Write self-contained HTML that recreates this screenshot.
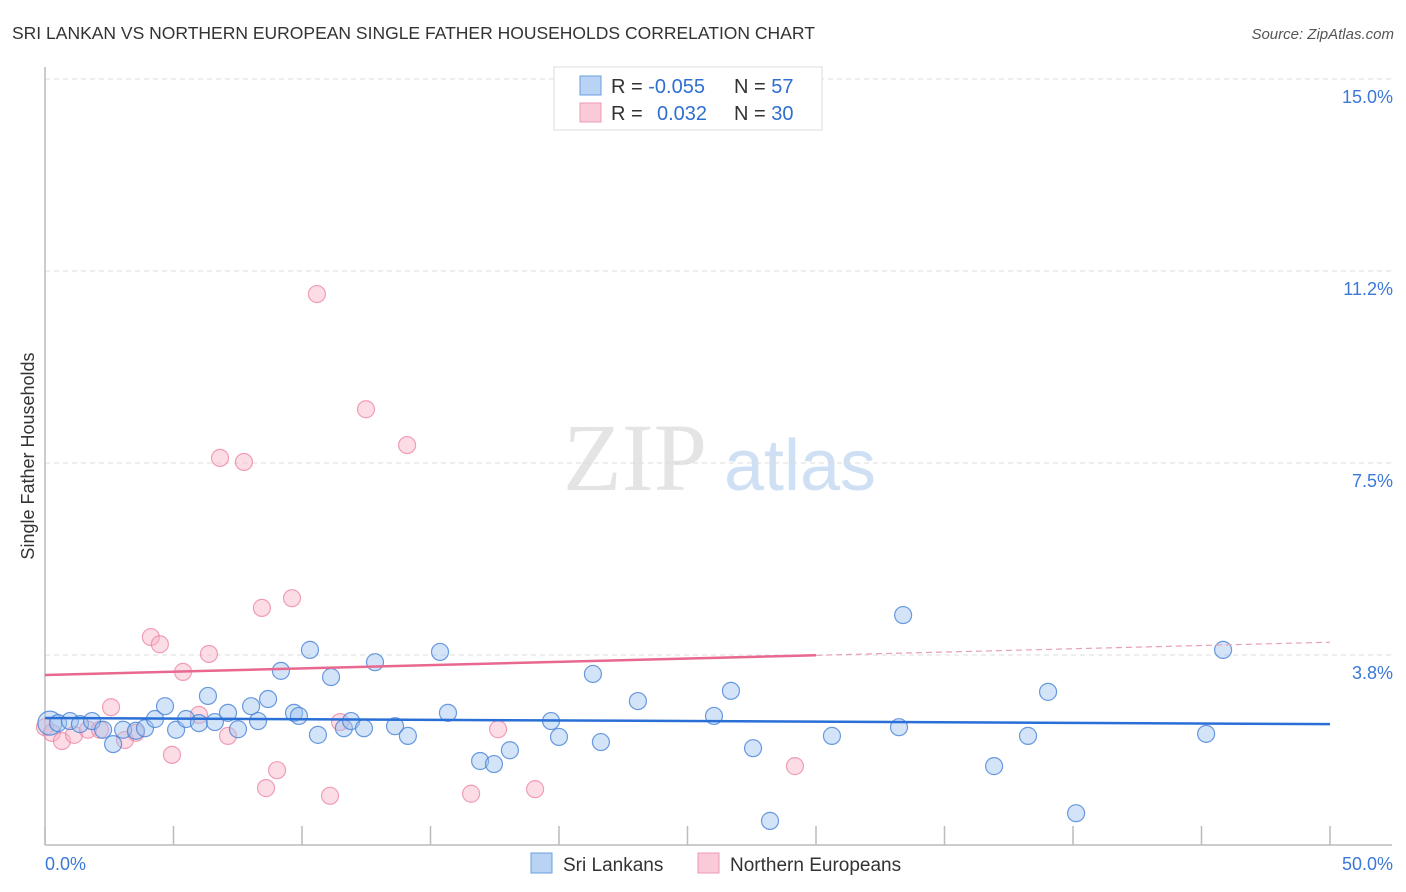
<!DOCTYPE html>
<html><head><meta charset="utf-8"><style>
body{margin:0;background:#fff;font-family:"Liberation Sans",sans-serif;}
svg{display:block}
</style></head><body>
<svg id="chart" width="1406" height="892">
<text x="12" y="39" font-size="17.5" fill="#333">SRI LANKAN VS NORTHERN EUROPEAN SINGLE FATHER HOUSEHOLDS CORRELATION CHART</text>
<text x="1394" y="39" font-size="15" fill="#555" font-style="italic" text-anchor="end">Source: ZipAtlas.com</text>
<g>
<text x="635" y="490" font-size="96" font-family="Liberation Serif,serif" fill="#e4e4e4" text-anchor="middle">ZIP</text>
<text x="800" y="490" font-size="72" fill="#cfe0f5" text-anchor="middle">atlas</text>
</g>
<g id="grid"></g>
<g id="axes"></g>
<g id="marks"></g>
<text transform="translate(34,456) rotate(-90)" font-size="18" fill="#333" text-anchor="middle">Single Father Households</text>
<g>
<rect x="554" y="67" width="268" height="63" fill="#fff" stroke="#ddd"/>
<rect x="580" y="76" width="21" height="19" fill="#b9d3f5" stroke="#6a9de0"/>
<rect x="580" y="103" width="21" height="19" fill="#fbcad8" stroke="#ee9ab4"/>
<text x="611" y="93" font-size="20" fill="#333">R = <tspan fill="#2f6fd0">-0.055</tspan></text>
<text x="734" y="93" font-size="20" fill="#333">N = <tspan fill="#2f6fd0">57</tspan></text>
<text x="611" y="120" font-size="20" fill="#333">R = <tspan fill="#2f6fd0" x="657">0.032</tspan></text>
<text x="734" y="120" font-size="20" fill="#333">N = <tspan fill="#2f6fd0">30</tspan></text>
</g>
<g>
<rect x="531" y="853" width="21" height="20" fill="#b9d3f5" stroke="#6a9de0"/>
<text x="563" y="871" font-size="19" fill="#333">Sri Lankans</text>
<rect x="698" y="853" width="21" height="20" fill="#fbcad8" stroke="#ee9ab4"/>
<text x="730" y="871" font-size="19" fill="#333">Northern Europeans</text>
</g>
</svg>
<script>
const blueX=[0.19,0.51,0.97,1.36,1.83,2.26,2.65,3.04,3.54,3.89,4.28,4.67,5.10,5.49,5.99,6.34,6.61,7.12,7.51,8.02,8.29,8.68,9.18,9.69,9.88,10.31,10.62,11.13,11.63,11.91,12.41,12.84,13.62,14.12,15.37,15.68,16.93,17.47,18.09,19.69,20.0,21.32,21.63,23.07,26.03,26.69,27.55,28.21,30.62,33.23,33.39,36.93,38.25,39.03,40.12,45.18,45.84];
const blueY=[2.42,2.42,2.46,2.40,2.46,2.29,2.01,2.29,2.27,2.32,2.50,2.75,2.29,2.50,2.42,2.95,2.44,2.62,2.30,2.75,2.46,2.89,3.44,2.62,2.56,3.85,2.19,3.32,2.32,2.46,2.32,3.61,2.36,2.17,3.81,2.62,1.68,1.62,1.89,2.46,2.15,3.38,2.05,2.85,2.56,3.05,1.93,0.51,2.17,2.34,4.53,1.58,2.17,3.03,0.66,2.21,3.85];
const pinkX=[0,0.27,0.66,1.13,1.67,2.14,2.57,3.11,3.54,4.12,4.47,4.94,5.37,5.99,6.38,6.81,7.12,7.74,8.44,8.60,9.03,9.61,10.58,11.09,11.48,12.49,14.09,16.58,17.63,19.07,29.18];
const pinkY=[2.34,2.23,2.07,2.19,2.29,2.29,2.73,2.09,2.23,4.10,3.96,1.80,3.42,2.58,3.77,7.60,2.17,7.52,4.67,1.15,1.50,4.86,10.80,1.00,2.44,8.55,7.85,1.04,2.30,1.13,1.58];
const blueTrend=[2.52,2.40];
const pinkTrend=[3.36,4.0];
const pinkSolidEnd=30;
const yTicks=[3.75,7.5,11.25,15];
const yTickLabels=["3.8%","7.5%","11.2%","15.0%"];
const xTicks=[0,5,10,15,20,25,30,35,40,45,50];

const NS="http://www.w3.org/2000/svg";
const xs=v=>45+v*25.7;
const ys=v=>847-v*51.2;
function mk(tag,attrs,parent){const e=document.createElementNS(NS,tag);for(const k in attrs)e.setAttribute(k,attrs[k]);document.getElementById(parent).appendChild(e);return e;}
yTicks.forEach((t,i)=>{
  const l=mk('line',{x1:45,x2:1392,y1:ys(t),y2:ys(t),stroke:'#ddd','stroke-dasharray':'5,4'},'grid');
  
  
  const tx=mk('text',{x:1393,y:ys(t)+24,'font-size':18,fill:'#3b78d8','text-anchor':'end'},'axes');
  tx.textContent=yTickLabels[i];
  
  
});
const ax=mk('line',{x1:45,x2:45,y1:67,y2:845,stroke:'#bbb','stroke-width':1.5},'axes');


const bx=mk('line',{x1:45,x2:1392,y1:845,y2:845,stroke:'#bbb','stroke-width':1.5},'axes');


xTicks.forEach(t=>{
  const l=mk('line',{x1:xs(t),x2:xs(t),y1:826,y2:845,stroke:'#bbb','stroke-width':1.5},'axes');
  
  
});
const xl0=mk('text',{x:45,y:870,'font-size':18,fill:'#3b78d8'},'axes');xl0.textContent='0.0%';


const xl1=mk('text',{x:1393,y:870,'font-size':18,fill:'#3b78d8','text-anchor':'end'},'axes');xl1.textContent='50.0%';



pinkX.forEach((x,i)=>{
  const c=mk('circle',{cx:xs(x),cy:ys(pinkY[i]),r:8.5,fill:'rgba(248,180,200,0.45)',stroke:'rgba(235,130,160,0.75)','stroke-width':1.2},'marks');
  
  
});
blueX.forEach((x,i)=>{
  const c=mk('circle',{cx:xs(x),cy:ys(blueY[i]),r:i===0?12:8.5,fill:'rgba(160,196,240,0.45)',stroke:'rgba(70,130,215,0.8)','stroke-width':1.2},'marks');
  
  
});
const bt=mk('line',{x1:xs(0),y1:ys(blueTrend[0]),x2:xs(50),y2:ys(blueTrend[1]),stroke:'#2a6fd6','stroke-width':2.5},'marks');


const pm=pinkTrend[0]+(pinkTrend[1]-pinkTrend[0])*pinkSolidEnd/50;
const pt=mk('line',{x1:xs(0),y1:ys(pinkTrend[0]),x2:xs(pinkSolidEnd),y2:ys(pm),stroke:'#e8688f','stroke-width':2.5},'marks');


const pd=mk('line',{x1:xs(pinkSolidEnd),y1:ys(pm),x2:xs(50),y2:ys(pinkTrend[1]),stroke:'#e8a0b6','stroke-width':1.2,'stroke-dasharray':'6,4'},'marks');


</script>
</body></html>
